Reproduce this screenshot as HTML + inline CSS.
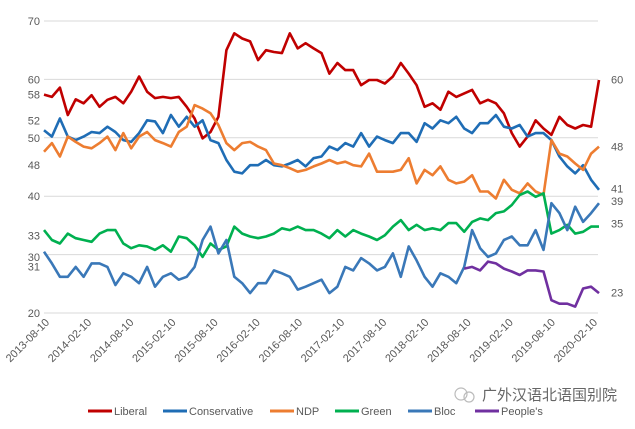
<!DOCTYPE html>
<html><head><meta charset="utf-8"><style>
body{margin:0;background:#fff;}
svg text{font-family:"Liberation Sans","Noto Sans CJK SC",sans-serif;fill:#595959;}
</style></head><body>
<svg id="chart" width="635" height="424" xmlns="http://www.w3.org/2000/svg">
<g id="grid"></g>
<g id="ylabels"></g>
<g id="rlabels"></g>
<g id="xlabels"></g>
<g id="lines"></g>
<g id="legend"></g>
<g>
<circle cx="461" cy="394" r="6" fill="none" stroke="#bbb" stroke-width="1.2"/>
<circle cx="469" cy="397" r="5" fill="none" stroke="#bbb" stroke-width="1.2"/>
<text x="482" y="400" font-size="15" style="fill:#666">广外汉语北语国别院</text>
</g>
</svg>
<script>
const ticks=[20,30,40,50,60,70];
const xTickLabels=["2013-08-10","2014-02-10","2014-08-10","2015-02-10","2015-08-10","2016-02-10","2016-08-10","2017-02-10","2017-08-10","2018-02-10","2018-08-10","2019-02-10","2019-08-10","2020-02-10"];
const leftLabels=[["70",70],["60",60],["58",57.4],["52",53.0],["50",50],["48",45.3],["40",40],["33",33.3],["30",29.6],["31",28.0],["20",20]];
const rightLabels=[["60",60],["48",48.5],["41",41.3],["39",39.2],["35",35.3],["23",23.5]];
const seriesNames=["Liberal","Conservative","NDP","Green","Bloc","People's"];
const seriesColors=["#c00000","#1f6db5","#ed7d31","#00b050","#3a78b8","#7030a0"];
const liberal=[57.4,57.0,58.6,53.9,56.6,55.9,57.3,55.3,56.5,57.0,55.9,57.9,60.5,57.9,56.8,57.0,56.8,57.0,55.3,53.3,49.9,51.0,53.6,65.0,67.9,67.0,66.5,63.3,65.0,64.7,64.5,67.9,65.3,66.2,65.3,
64.5,61.0,62.8,61.6,61.6,59.0,59.9,59.9,59.3,60.5,62.8,61.0,59.0,55.3,55.9,54.8,57.9,57.0,57.6,58.2,55.9,56.5,55.9,54.2,50.8,48.5,50.2,53.0,51.6,50.5,53.6,52.2,51.6,52.2,51.9,59.9];
const conservative=[51.3,50.2,53.3,50.2,49.6,50.2,51.0,50.8,51.9,51.0,49.6,49.3,50.8,53.0,52.8,50.8,53.9,51.9,53.6,51.9,53.0,49.6,49.1,46.2,44.2,43.9,45.3,45.3,46.2,45.3,45.1,45.6,46.2,45.1,46.5,
46.8,48.5,47.9,49.1,48.5,50.8,48.5,50.2,49.6,49.1,50.8,50.8,49.3,52.5,51.6,53.0,52.5,53.6,51.6,50.8,52.5,52.5,53.9,51.9,51.6,52.2,50.2,50.8,50.8,49.6,46.8,45.1,43.9,45.3,42.8,41.1];
const ndp=[47.6,49.1,46.8,50.2,49.3,48.5,48.2,49.1,50.2,47.9,50.8,48.2,50.2,51.0,49.6,49.1,48.5,51.0,51.9,55.6,55.0,54.2,52.2,49.1,47.9,49.1,49.3,48.5,47.9,45.6,45.3,44.8,44.2,44.5,45.1,
45.6,46.2,45.6,45.9,45.3,45.1,47.3,44.2,44.2,44.2,44.5,46.5,42.2,44.5,43.6,45.1,42.8,42.2,42.5,43.6,40.8,40.8,39.6,42.8,41.1,40.5,42.2,40.8,40.2,49.6,47.3,46.8,45.6,44.5,47.3,48.5];
const green=[34.2,32.5,31.9,33.6,32.8,32.5,32.2,33.6,34.2,34.2,31.9,31.1,31.6,31.4,30.8,31.6,30.5,33.1,32.8,31.6,29.6,31.9,30.8,31.4,34.8,33.6,33.1,32.8,33.1,33.6,34.5,34.2,34.8,34.2,34.2,
33.6,32.8,34.2,33.1,34.2,33.6,33.1,32.5,33.3,34.8,35.9,34.2,35.1,34.2,34.5,34.2,35.4,35.4,33.9,35.6,36.2,35.9,37.1,37.4,38.5,40.2,40.8,39.9,40.5,33.6,34.2,35.1,33.6,33.9,34.8,34.8];
const bloc=[30.5,28.5,26.2,26.2,27.9,26.2,28.5,28.5,27.9,24.8,26.8,26.2,25.1,27.9,24.5,26.2,26.8,25.7,26.2,27.9,32.5,34.8,30.2,32.5,26.2,25.1,23.4,25.1,25.1,27.3,26.8,26.2,24.0,24.5,25.1,
25.7,23.4,24.5,27.9,27.3,29.4,28.5,27.3,27.9,30.2,26.2,31.4,29.0,26.2,24.5,26.8,26.2,25.1,27.9,34.2,31.1,29.6,30.2,32.5,33.1,31.6,31.6,34.2,30.8,38.8,37.1,34.2,38.2,35.6,37.1,38.8];
const peoples=[null,null,null,null,null,null,null,null,null,null,null,null,null,null,null,null,null,null,null,null,null,null,null,null,null,null,null,null,null,null,null,null,null,null,null,
null,null,null,null,null,null,null,null,null,null,null,null,null,null,null,null,null,null,27.6,27.9,27.3,28.8,28.5,27.6,27.1,26.5,27.3,27.3,27.1,22.2,21.6,21.6,21.1,24.2,24.5,23.4];
const allSeries=[liberal,conservative,ndp,green,bloc,peoples];

const NS="http://www.w3.org/2000/svg";
const X0=44,X1=599,XG1=598;
function yScale(v){return 313-(v-20)*5.84;}
function xScale(i,n){return X0+i*(X1-X0)/(n-1);}
function mk(tag,attrs,parent){const e=document.createElementNS(NS,tag);for(const k in attrs)e.setAttribute(k,attrs[k]);parent.appendChild(e);return e;}

const grid=document.getElementById('grid');
ticks.forEach(t=>{
  const l=mk('line',{x1:X0,x2:XG1,y1:yScale(t),y2:yScale(t),stroke:'#d9d9d9','stroke-width':1},grid);
  
  
});
const yl=document.getElementById('ylabels');
leftLabels.forEach(p=>{
  const t=mk('text',{x:40,y:yScale(p[1])+4,'text-anchor':'end','font-size':11},yl);
  t.textContent=p[0];
  
  
});
const rl=document.getElementById('rlabels');
rightLabels.forEach(p=>{
  const t=mk('text',{x:611,y:yScale(p[1])+4,'font-size':11},rl);
  t.textContent=p[0];
  
  
});
const xl=document.getElementById('xlabels');
xTickLabels.forEach((s,i)=>{
  const x=50+i*(598-50)/(xTickLabels.length-1), y=323;
  const t=mk('text',{x:x,y:y,'text-anchor':'end','font-size':11,transform:'rotate(-45 '+x+' '+y+')'},xl);
  t.textContent=s;
  
  
});
const lines=document.getElementById('lines');
allSeries.forEach((arr,si)=>{
  let d='',pen=false;
  arr.forEach((v,i)=>{
    if(v===null){pen=false;return;}
    d+=(pen?'L':'M')+xScale(i,arr.length).toFixed(1)+' '+yScale(v).toFixed(1)+' ';
    pen=true;
  });
  const p=mk('path',{d:d,fill:'none',stroke:seriesColors[si],'stroke-width':2.6,'stroke-linejoin':'round'},lines);
  
  
});
const lg=document.getElementById('legend');
const lgX=[88,163,270,335,408,475];
seriesNames.forEach((n,i)=>{
  const g=mk('g',{},lg);
  
  
  mk('line',{x1:lgX[i],x2:lgX[i]+24,y1:411,y2:411,stroke:seriesColors[i],'stroke-width':3},g);
  const t=mk('text',{x:lgX[i]+26,y:415,'font-size':11},g);
  t.textContent=n;
});
</script>
</body></html>
